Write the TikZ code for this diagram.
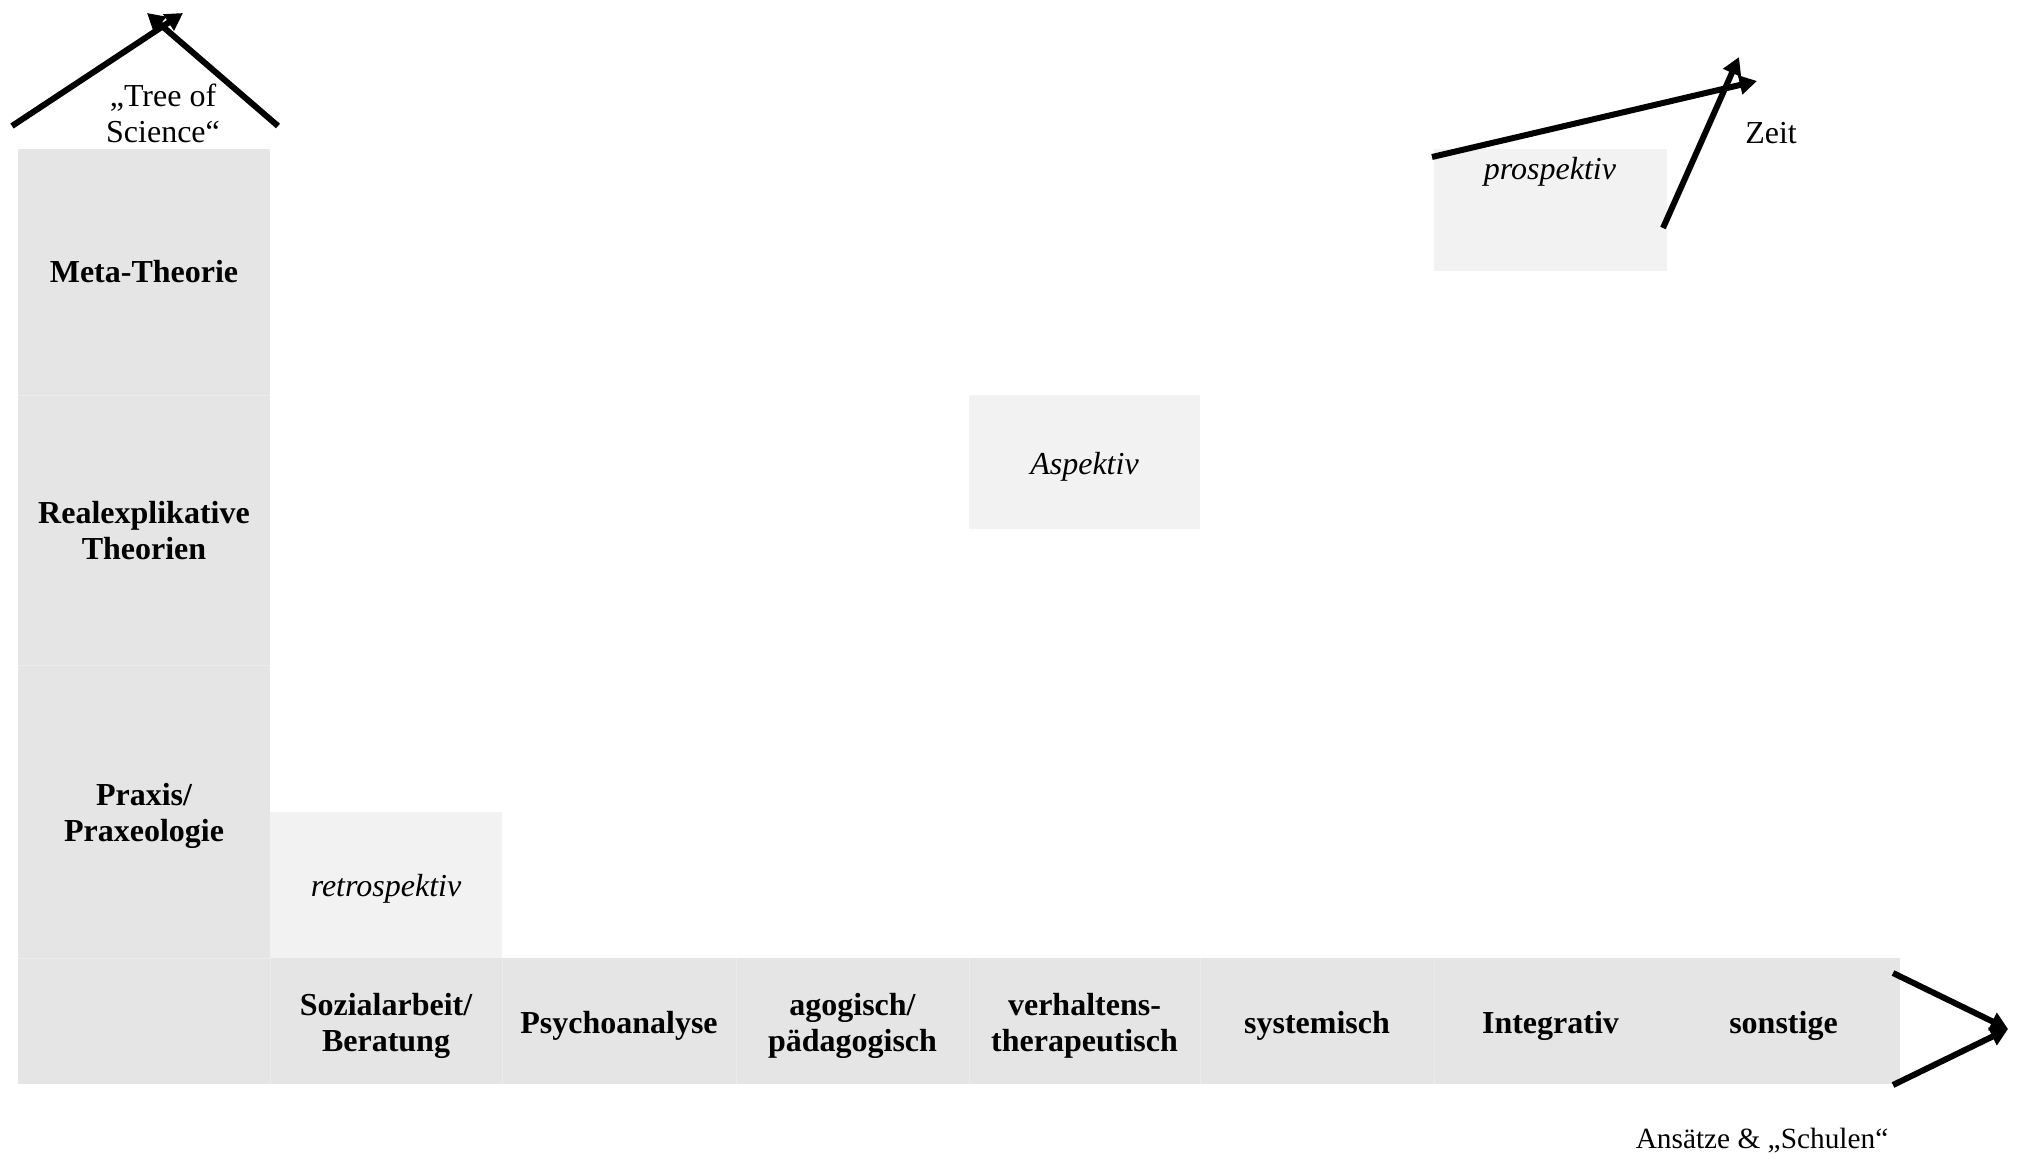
\documentclass[tikz,border=0pt]{standalone}
\usepackage{fontspec}
\setmainfont{Liberation Serif}
\usetikzlibrary{arrows.meta}
\definecolor{cellgray}{HTML}{E5E5E5}
\definecolor{paleGray}{HTML}{F2F2F2}
\definecolor{sepgray}{HTML}{ECECEC}
\begin{document}
\begin{tikzpicture}[x=0.75pt,y=-0.75pt,
  txt/.style={font=\fontsize{24pt}{27pt}\selectfont, align=center, inner sep=0pt},
  cell/.style={rectangle, fill=cellgray, draw=none, inner sep=0pt},
  palecell/.style={rectangle, fill=paleGray, draw=none, inner sep=0pt},
  boldtext/.style={align=center, inner sep=0pt, font=\fontsize{24pt}{27pt}\selectfont\bfseries},
  ittext/.style={align=center, inner sep=0pt, font=\fontsize{24pt}{27pt}\selectfont\itshape},
  sep/.style={draw=sepgray, line width=0.75pt},
  arr/.style={line width=4.5pt, -{Triangle[length=13pt,width=14pt]}}]
\useasboundingbox (0,0) rectangle (2017,1159);

% left column
\node[cell, minimum width=189pt, minimum height=184.5pt,
  label={[boldtext, name=metaT]center:{Meta-Theorie}}] (meta) at (144,272) {};
\node[cell, minimum width=189pt, minimum height=202.5pt,
  label={[boldtext, name=realT, yshift=-0.75pt]center:{Realexplikative\\Theorien}}] (real) at (144,530) {};
\node[cell, minimum width=189pt, minimum height=219.75pt,
  label={[boldtext, name=praxisT, yshift=-3pt]center:{Praxis/\\Praxeologie}}] (praxis) at (144,811.5) {};
\node[cell, minimum width=189pt, minimum height=94.5pt] (corner) at (144,1021) {};

% bottom row
\tikzset{bottomcell/.style={cell, minimum height=94.5pt,
  label={[boldtext, yshift=-3.75pt]center:{#1}}}}
\node[bottomcell={Sozialarbeit/\\Beratung}, minimum width=174pt] (sozial) at (386,1021) {};
\node[bottomcell={Psychoanalyse}, minimum width=175.5pt] (psycho) at (619,1021) {};
\node[bottomcell={agogisch/\\pädagogisch}, minimum width=174.75pt] (agog) at (852.5,1021) {};
\node[bottomcell={verhaltens-\\therapeutisch}, minimum width=173.25pt] (verh) at (1084.5,1021) {};
\node[bottomcell={systemisch}, minimum width=175.5pt] (syst) at (1317,1021) {};
\node[bottomcell={Integrativ}, minimum width=174.75pt] (integ) at (1550.5,1021) {};
\node[bottomcell={sonstige}, minimum width=174.75pt] (sonst) at (1783.5,1021) {};

% faint cell separators
\draw[sep] (meta.south west) -- (meta.south east);
\draw[sep] (real.south west) -- (real.south east);
\draw[sep] (praxis.south west) -- (praxis.south east);
\draw[sep] (corner.north east) -- (corner.south east);
\draw[sep] (sozial.north east) -- (sozial.south east);
\draw[sep] (psycho.north east) -- (psycho.south east);
\draw[sep] (agog.north east) -- (agog.south east);
\draw[sep] (verh.north east) -- (verh.south east);
\draw[sep] (syst.north east) -- (syst.south east);

% pale boxes
\node[palecell, minimum width=174pt, minimum height=109.5pt,
  label={[ittext, name=retroT, yshift=-3pt]center:{retrospektiv}}] (retro) at (386,885) {};
\node[palecell, minimum width=173.25pt, minimum height=100.5pt,
  label={[ittext, name=aspT, yshift=-3.75pt]center:{Aspektiv}}] (asp) at (1084.5,462) {};
\node[palecell, minimum width=174.75pt, minimum height=91.5pt] (prospbox) at (1550.5,210) {};
\node[ittext] (prosp) at (1550,172) {prospektiv};

% free labels
\node[txt] (tree) at (163,113) {„Tree of\\Science“};
\node[txt] (zeit) at (1771,133) {Zeit};
\node[txt, font=\fontsize{22pt}{25pt}\selectfont] (ansatz) at (1762,1141) {Ansätze \& „Schulen“};

% arrows
\coordinate (t1s) at (12,126);
\coordinate (t1e) at (183,13);
\coordinate (t2s) at (278,126);
\coordinate (t2e) at (147,13);
\draw[arr] (t1s) -- (t1e);
\draw[arr] (t2s) -- (t2e);

\coordinate (z1s) at (1432,157);
\coordinate (z1e) at (1757,81);
\coordinate (z2s) at (1663,228);
\coordinate (z2e) at (1739,57);
\draw[arr] (z1s) -- (z1e);
\draw[arr] (z2s) -- (z2e);

\coordinate (s1s) at (1893,973);
\coordinate (s1e) at (2008,1029);
\coordinate (s2s) at (1893,1085);
\coordinate (s2e) at (2008,1029);
\draw[arr] (s1s) -- (s1e);
\draw[arr] (s2s) -- (s2e);
\end{tikzpicture}
\end{document}
